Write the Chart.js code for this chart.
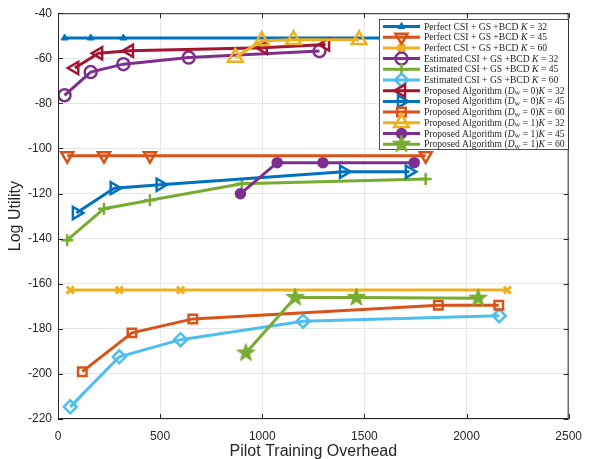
<!DOCTYPE html>
<html>
<head>
<meta charset="utf-8">
<script src="https://cdn.jsdelivr.net/npm/chart.js@4.4.1/dist/chart.umd.min.js"></script>
<style>
  html, body { margin: 0; padding: 0; background: #fff; }
</style>
</head>
<body>
<canvas id="utilityChart" width="592" height="459"></canvas>
<script>
// ---- data: pilot overhead (x) and log utility (y) for every curve ----
const perfK32X = [32, 160, 320, 1600];
const perfK32Y = [-51, -51, -51, -51];
const perfK45X = [45, 225, 450, 1800];
const perfK45Y = [-103.2, -103.2, -103.2, -103.2];
const perfK60X = [60, 300, 600, 2200];
const perfK60Y = [-162.8, -162.8, -162.8, -162.8];

const estK32X = [32, 160, 320, 640, 1280];
const estK32Y = [-76.4, -66.1, -62.6, -59.7, -56.8];
const estK45X = [45, 225, 450, 900, 1800];
const estK45Y = [-140.7, -126.7, -123.0, -115.7, -113.5];
const estK60X = [60, 300, 600, 1200, 2160];
const estK60Y = [-214.6, -192.4, -184.8, -176.6, -174.2];

const propD0K32X = [82, 199, 350, 1005, 1310];
const propD0K32Y = [-64.3, -57.8, -56.7, -55.3, -53.9];
const propD0K45X = [90, 275, 500, 1398, 1720];
const propD0K45Y = [-128.6, -117.6, -116.1, -110.3, -110.3];
const propD0K60X = [119, 362, 660, 1862, 2158];
const propD0K60Y = [-199, -181.8, -175.6, -169.5, -169.5];

const propD1K32X = [868, 997, 1153, 1474];
const propD1K32Y = [-59.6, -52.2, -51.8, -51.8];
const propD1K45X = [893, 1073, 1297, 1744];
const propD1K45Y = [-120.1, -106.3, -106.3, -106.3];
const propD1K60X = [920, 1161, 1461, 2057];
const propD1K60Y = [-190.7, -166.1, -166.1, -166.4];

const xMin = 0, xMax = 2500, xStep = 500;
const yMin = -220, yMax = -40, yStep = 20;

// legend text pieces: i = italic, sub = subscript
const legendLabels = [
  [{t: 'Perfect CSI + GS +BCD '}, {t: 'K', i: true}, {t: ' = 32'}],
  [{t: 'Perfect CSI + GS +BCD '}, {t: 'K', i: true}, {t: ' = 45'}],
  [{t: 'Perfect CSI + GS +BCD '}, {t: 'K', i: true}, {t: ' = 60'}],
  [{t: 'Estimated CSI + GS +BCD '}, {t: 'K', i: true}, {t: ' = 32'}],
  [{t: 'Estimated CSI + GS +BCD '}, {t: 'K', i: true}, {t: ' = 45'}],
  [{t: 'Estimated CSI + GS +BCD '}, {t: 'K', i: true}, {t: ' = 60'}],
  [{t: 'Proposed Algorithm ('}, {t: 'D', i: true}, {t: 'W', i: true, sub: true}, {t: ' = 0)'}, {t: 'K', i: true}, {t: ' = 32'}],
  [{t: 'Proposed Algorithm ('}, {t: 'D', i: true}, {t: 'W', i: true, sub: true}, {t: ' = 0)'}, {t: 'K', i: true}, {t: ' = 45'}],
  [{t: 'Proposed Algorithm ('}, {t: 'D', i: true}, {t: 'W', i: true, sub: true}, {t: ' = 0)'}, {t: 'K', i: true}, {t: ' = 60'}],
  [{t: 'Proposed Algorithm ('}, {t: 'D', i: true}, {t: 'W', i: true, sub: true}, {t: ' = 1)'}, {t: 'K', i: true}, {t: ' = 32'}],
  [{t: 'Proposed Algorithm ('}, {t: 'D', i: true}, {t: 'W', i: true, sub: true}, {t: ' = 1)'}, {t: 'K', i: true}, {t: ' = 45'}],
  [{t: 'Proposed Algorithm ('}, {t: 'D', i: true}, {t: 'W', i: true, sub: true}, {t: ' = 1)'}, {t: 'K', i: true}, {t: ' = 60'}]
];

// matlab line colours
const cBlue = '#0072BD', cOrange = '#D95319', cYellow = '#EDB120', cPurple = '#7E2F8E';
const cGreen = '#77AC30', cCyan = '#4DBEEE', cRed = '#A2142F';

// filled five point star used as a marker image
function makeStar(color, R) {
  const c = document.createElement('canvas');
  const s = Math.ceil(R * 2 + 4);
  c.width = s; c.height = s;
  const g = c.getContext('2d');
  g.translate(s / 2, s / 2);
  g.beginPath();
  for (let k = 0; k < 10; k++) {
    const r = k % 2 === 0 ? R : R * 0.4;
    const a = -Math.PI / 2 + k * Math.PI / 5;
    g.lineTo(Math.cos(a) * r, Math.sin(a) * r);
  }
  g.closePath();
  g.fillStyle = color;
  g.fill();
  g.lineWidth = 1;
  g.strokeStyle = color;
  g.stroke();
  return c;
}
const greenStar = makeStar(cGreen, 9.5);

function toPts(xs, ys) {
  return xs.map((x, i) => ({x: x, y: ys[i]}));
}

const none = 'rgba(0,0,0,0)';
function series(xs, ys, color, style, radius, rot, fill, bw) {
  return {
    data: toPts(xs, ys),
    borderColor: color,
    borderWidth: 3,
    pointStyle: style,
    pointRadius: radius,
    pointRotation: rot,
    pointBorderColor: color,
    pointBackgroundColor: fill ? color : none,
    pointBorderWidth: bw,
    tension: 0,
    fill: false
  };
}

const datasets = [
  series(perfK32X, perfK32Y, cBlue, 'triangle', 4, 0, true, 1),
  series(perfK45X, perfK45Y, cOrange, 'triangle', 7, 180, false, 2.5),
  series(perfK60X, perfK60Y, cYellow, 'crossRot', 5, 0, false, 3),
  series(estK32X, estK32Y, cPurple, 'circle', 6, 0, false, 2.5),
  series(estK45X, estK45Y, cGreen, 'cross', 6, 0, false, 2.5),
  series(estK60X, estK60Y, cCyan, 'rectRot', 6.5, 0, false, 2.5),
  series(propD0K32X, propD0K32Y, cRed, 'triangle', 7, 270, false, 2.5),
  series(propD0K45X, propD0K45Y, cBlue, 'triangle', 7, 90, false, 2.5),
  series(propD0K60X, propD0K60Y, cOrange, 'rect', 6, 0, false, 2.5),
  series(propD1K32X, propD1K32Y, cYellow, 'triangle', 8.5, 0, false, 2.5),
  series(propD1K45X, propD1K45Y, cPurple, 'circle', 5, 0, true, 1.5),
  series(propD1K60X, propD1K60Y, cGreen, greenStar, 9.5, 0, true, 1)
];
// later curves sit on top of earlier ones
datasets.forEach((d, i) => { d.order = -i; });

function drawRich(ctx, parts, x, y, size) {
  let cx = x;
  parts.forEach(p => {
    const fs = p.sub ? size * 0.7 : size;
    ctx.font = (p.i ? 'italic ' : '') + fs + 'px "Liberation Serif", "DejaVu Serif", serif';
    ctx.fillText(p.t, cx, p.sub ? y + size * 0.25 : y);
    cx += ctx.measureText(p.t).width;
  });
}

// axes box with inward ticks, then the legend drawn over the curves
const boxAndLegend = {
  id: 'boxAndLegend',
  afterDatasetsDraw(chart) {
    const ctx = chart.ctx;
    const a = chart.chartArea;
    const xs = chart.scales.x, ys = chart.scales.y;
    ctx.save();
    ctx.strokeStyle = '#262626';
    ctx.lineWidth = 1;
    ctx.strokeRect(a.left + 0.5, a.top + 0.5, a.right - a.left - 1, a.bottom - a.top - 1);
    ctx.beginPath();
    for (let v = xMin; v <= xMax; v += xStep) {
      const px = Math.round(xs.getPixelForValue(v)) + 0.5;
      ctx.moveTo(px, a.bottom); ctx.lineTo(px, a.bottom - 5);
      ctx.moveTo(px, a.top); ctx.lineTo(px, a.top + 5);
    }
    for (let v = yMin; v <= yMax; v += yStep) {
      const py = Math.round(ys.getPixelForValue(v)) + 0.5;
      ctx.moveTo(a.left, py); ctx.lineTo(a.left + 5, py);
      ctx.moveTo(a.right, py); ctx.lineTo(a.right - 5, py);
    }
    ctx.stroke();

    // legend
    const lx = 379, ly = 19, lw = 189, lh = 130;
    ctx.fillStyle = '#fff';
    ctx.fillRect(lx, ly, lw, lh);
    ctx.strokeStyle = '#262626';
    ctx.lineWidth = 0.8;
    ctx.strokeRect(lx + 0.5, ly + 0.5, lw, lh);
    const rowH = 10.7;
    legendLabels.forEach((parts, i) => {
      const d = datasets[i];
      const y = ly + 7.5 + i * rowH;
      ctx.strokeStyle = d.borderColor;
      ctx.lineWidth = 3;
      ctx.beginPath();
      ctx.moveTo(383, y); ctx.lineTo(420, y);
      ctx.stroke();
      ctx.fillStyle = d.pointBackgroundColor;
      ctx.strokeStyle = d.pointBorderColor;
      ctx.lineWidth = d.pointBorderWidth;
      Chart.helpers.drawPoint(ctx, {
        pointStyle: d.pointStyle,
        rotation: d.pointRotation,
        radius: d.pointRadius,
        borderWidth: d.pointBorderWidth
      }, 401.5, y);
      ctx.fillStyle = '#262626';
      ctx.textBaseline = 'middle';
      ctx.textAlign = 'left';
      drawRich(ctx, parts, 424, y + 0.5, 9.6);
    });
    ctx.restore();
  }
};

const tickFont = {family: 'Liberation Sans, Arial, sans-serif', size: 12};
const titleFont = {family: 'Liberation Sans, Arial, sans-serif', size: 16};

new Chart(document.getElementById('utilityChart'), {
  type: 'line',
  data: {datasets: datasets},
  options: {
    responsive: false,
    animation: false,
    devicePixelRatio: 1,
    layout: {padding: {top: 10, right: 15, left: 0, bottom: 0}},
    plugins: {legend: {display: false}, tooltip: {enabled: false}},
    scales: {
      x: {
        type: 'linear',
        min: xMin, max: xMax,
        afterFit: s => { s.height = 40; },
        ticks: {stepSize: xStep, color: '#262626', font: tickFont, padding: 10, maxRotation: 0,
          callback: v => String(v)},
        grid: {color: '#e6e6e6', drawTicks: false},
        border: {display: false},
        title: {display: true, text: 'Pilot Training Overhead', color: '#262626', font: titleFont, padding: {top: 0, bottom: -2}}
      },
      y: {
        type: 'linear',
        min: yMin, max: yMax,
        afterFit: s => { s.width = 58; },
        ticks: {stepSize: yStep, color: '#262626', font: tickFont, padding: 6,
          callback: v => String(v)},
        grid: {color: '#e6e6e6', drawTicks: false},
        border: {display: false},
        title: {display: true, text: 'Log Utility', color: '#262626', font: titleFont, padding: {top: 6, bottom: 0}}
      }
    }
  },
  plugins: [boxAndLegend]
});
</script>
</body>
</html>
